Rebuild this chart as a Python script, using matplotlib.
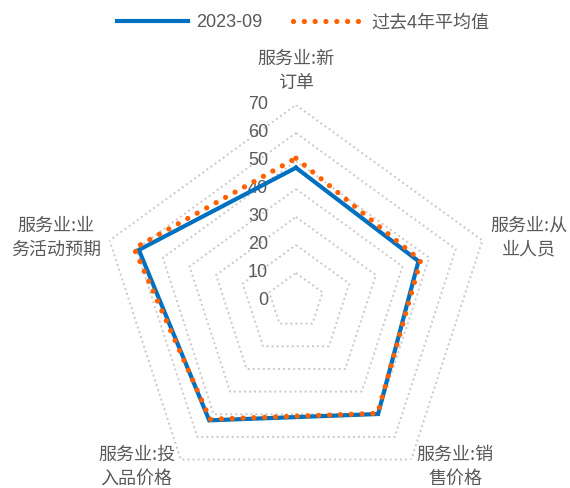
import numpy as np
import matplotlib
matplotlib.use("Agg")
import matplotlib.pyplot as plt
from matplotlib.lines import Line2D

plt.rcParams['font.family'] = ['Liberation Sans', 'Noto Sans CJK SC', 'DejaVu Sans']

# --- data ---
categories = ["服务业:新\n订单", "服务业:从\n业人员", "服务业:销\n售价格",
              "服务业:投\n入品价格", "服务业:业\n务活动预期"]
latest = [47.6, 46.0, 49.9, 52.7, 59.0]      # 2023-09
avg_4y = [51.0, 46.8, 49.6, 52.2, 60.8]      # 过去4年平均值
series_names = ["2023-09", "过去4年平均值"]
r_ticks = [0, 10, 20, 30, 40, 50, 60, 70]

blue = '#0070C0'
orange = '#FF6100'
grey_txt = '#595959'

fig = plt.figure(figsize=(5.70, 4.88), dpi=100)
ax = fig.add_axes([0.1754, -0.0184, 0.6877, 0.8033], projection='polar')
ax.set_theta_zero_location('N')
ax.set_theta_direction(-1)
ax.set_ylim(0, 70)
ax.grid(False)
ax.spines['polar'].set_visible(False)
ax.set_xticks([])
ax.set_yticks([])
ax.patch.set_visible(False)

n = len(categories)
theta = np.arange(n) * 2 * np.pi / n
theta_c = np.append(theta, theta[0])

# pentagon gridlines
for r in r_ticks[1:]:
    ax.plot(theta_c, [r] * (n + 1), color='#C9C9C9', lw=1.4,
            linestyle=(0, (1, 1.6)), zorder=1)

# radial tick labels
for r in r_ticks:
    ax.annotate(str(r), xy=(0, r), xytext=(-20, 0), textcoords='offset points',
                ha='right', va='center', fontsize=13, color=grey_txt)

# series
ax.plot(theta_c, np.append(latest, latest[0]), color=blue, lw=3,
        solid_joinstyle='miter', zorder=3)
ax.plot(theta_c, np.append(avg_4y, avg_4y[0]), color=orange, lw=3.8,
        linestyle=(0, (0.001, 2.05)), dash_capstyle='round', zorder=4)

# category labels
offsets = [(0, 9, 'center', 'bottom'),
           (6, 2, 'left', 'center'),
           (4, -5, 'left', 'center'),
           (-4, -5, 'right', 'center'),
           (-6, 2, 'right', 'center')]
for t, lab, (dx, dy, ha, va) in zip(theta, categories, offsets):
    ax.annotate(lab, xy=(t, 70), xytext=(dx, dy), textcoords='offset points',
                ha=ha, va=va, multialignment='center', fontsize=13,
                color=grey_txt, linespacing=1.45,
                family=['Noto Sans CJK SC', 'DejaVu Sans'])

handles = [Line2D([], [], color=blue, lw=3),
           Line2D([], [], color=orange, lw=3.8, linestyle=(0, (0.001, 2.05)),
                  dash_capstyle='round')]
leg = fig.legend(handles, series_names, loc='center', ncol=2,
                 bbox_to_anchor=(0.532, 0.953), frameon=False,
                 handlelength=3.9, handletextpad=0.45, columnspacing=1.7,
                 prop={'family': ['Liberation Sans', 'Noto Sans CJK SC'], 'size': 13})
for t in leg.get_texts():
    t.set_color(grey_txt)

fig.savefig('out.png', dpi=100)
